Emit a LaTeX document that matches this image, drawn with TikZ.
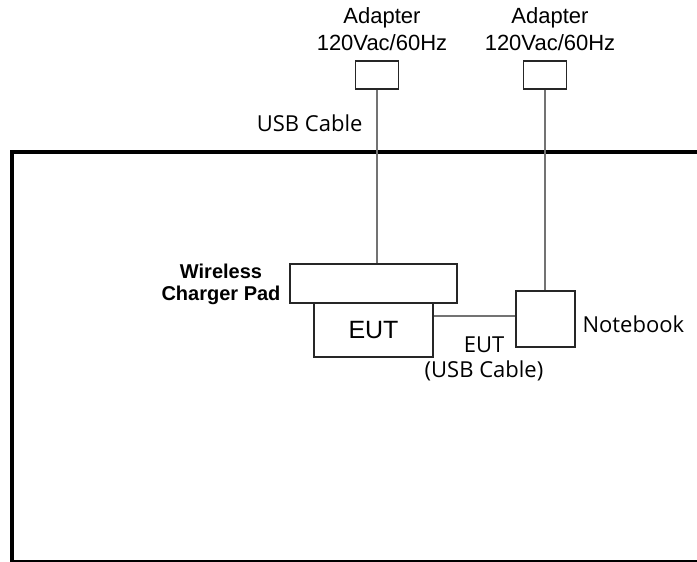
\documentclass[tikz,border=0pt]{standalone}
\usepackage{fontspec}
\setmainfont{Liberation Sans}
\newfontfamily\uifont{Open Sans}
\usetikzlibrary{positioning}
\tikzset{
  unit/.style={draw=black!85, line width=1.8pt, inner sep=0pt},
  wire/.style={draw=black!55, line width=2pt},
  arial/.style={font=\fontsize{22}{27}\selectfont},
  ui/.style={font=\uifont\fontsize{22}{25}\selectfont},
}
\begin{document}
\begin{tikzpicture}[x=1pt,y=-1pt]
\useasboundingbox (0,0) rectangle (697,562);
        %frame
        \draw[line width=4pt] (12,562) rectangle (710,152);
        %adapters
        \node[unit, minimum width=43pt, minimum height=28pt] (adA) at (377,75) {};
        \node[unit, minimum width=43pt, minimum height=28pt] (adB) at (545,75) {};
        \node[arial, align=center] (adAlbl) at (382,29.5) {Adapter\\120Vac/60Hz};
        \node[arial, align=center] (adBlbl) at (550,29.5) {Adapter\\120Vac/60Hz};
        %pad and EUT
        \node[unit, minimum width=167pt, minimum height=39pt] (pad) at (373.5,283.5) {};
        \node[unit, minimum width=119pt, minimum height=54pt, font=\fontsize{25}{27}\selectfont] (eut) at (373.5,330) {EUT};
        \node[font=\bfseries\fontsize{20}{22}\selectfont, align=center] (padlbl) at (221,284) {Wireless\\Charger Pad};
        %notebook
        \node[unit, minimum width=59pt, minimum height=56pt] (nb) at (545.5,319) {};
        \node[ui, anchor=base west] (nblbl) at (579,332) {Notebook};
        %cables
        \draw[wire] (adA) -- (adA |- pad.north);
        \draw[wire] (adB) -- (adB |- nb.north);
        \draw[wire] ([yshift=3pt]nb.west) -- ([yshift=3pt]nb.west -| eut.east);
        \node[ui, anchor=base east] (usblbl) at (366,131) {USB Cable};
        \node[ui, align=center] (cablbl) at (484,359) {EUT\\(USB Cable)};
\end{tikzpicture}
\end{document}
